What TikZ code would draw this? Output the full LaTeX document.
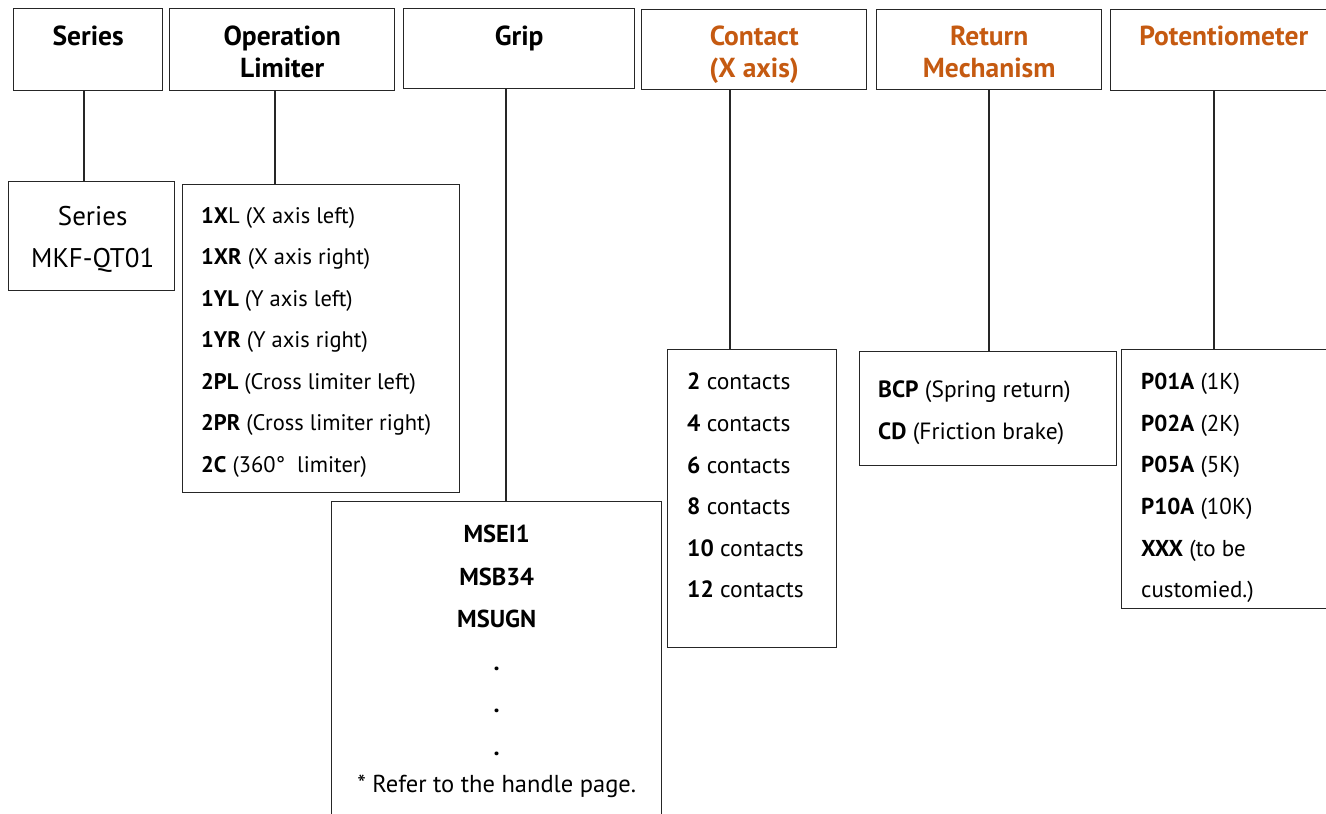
\documentclass[tikz,border=0pt]{standalone}
\usepackage{fontspec}
\setmainfont{PT Sans}
\usetikzlibrary{positioning}
\definecolor{hdorange}{RGB}{197,90,17}
\tikzset{
  frame/.style={draw=black!85, line width=1.4pt, anchor=north west, inner sep=0pt},
  title/.style={font=\fontsize{27.5}{32}\selectfont\bfseries, align=center, inner sep=0pt, anchor=north},
  items/.style={font=\fontsize{22.5}{41.5}\selectfont, align=left, inner sep=0pt, anchor=north west},
  wire/.style={draw=black!85, line width=1.4pt},
}
\newcommand{\link}[3]{\draw[wire] (#1.south -| #3,0) -- (#2.north -| #3,0);}

\begin{document}
\begin{tikzpicture}[x=1pt, y=-1pt]
    \useasboundingbox (0,0) rectangle (1326,814);
    \clip (0,0) rectangle (1326,814);
    % headers
    \node[frame, minimum width=149, minimum height=82] (hseries) at (13,8) {};
    \node[frame, minimum width=225, minimum height=82] (hlimit) at (169,8) {};
    \node[frame, minimum width=231, minimum height=80] (hgrip) at (403,8) {};
    \node[frame, minimum width=225, minimum height=80] (hcontact) at (641,9) {};
    \node[frame, minimum width=225, minimum height=80] (hreturn) at (876,9) {};
    \node[frame, minimum width=240, minimum height=81] (hpot) at (1110,9) {};
    \node[title, below=18pt of hseries.north] (tseries) {Series};
    \node[title, below=18pt of hlimit.north] (tlimit) {Operation\\Limiter};
    \node[title, below=18pt of hgrip.north] (tgrip) {Grip};
    \node[title, text=hdorange, below=17pt of hcontact.north] (tcontact) {Contact\\(X axis)};
    \node[title, text=hdorange, below=17pt of hreturn.north] (treturn) {Return\\Mechanism};
    \node[title, text=hdorange, below=17pt of hpot.north, xshift=-7pt] (tpot) {Potentiometer};
    % option boxes
    \node[frame, minimum width=166, minimum height=109] (series) at (8,181) {};
    \node[title, font=\fontsize{27}{42}\selectfont, below=25pt of series.north, xshift=1pt] (tmodel) {Series\\MKF-QT01};
    \node[frame, minimum width=277, minimum height=308] (limit) at (182,184) {};
    \node[frame, minimum width=330, minimum height=340] (grip) at (331,501) {};
    \node[frame, minimum width=169, minimum height=298] (contact) at (667,349) {};
    \node[frame, minimum width=257, minimum height=114] (return) at (859,351) {};
    \node[frame, minimum width=250, minimum height=259] (pot) at (1121,349) {};
    \node[items, below right=23pt and 19pt of limit.north west] (llimit) {%
        \textbf{1X}L (X axis left)\\
        \textbf{1XR} (X axis right)\\
        \textbf{1YL} (Y axis left)\\
        \textbf{1YR} (Y axis right)\\
        \textbf{2PL} (Cross limiter left)\\
        \textbf{2PR} (Cross limiter right)\\
        \textbf{2C} (360°\ \ limiter)};
    \node[items, align=center, font=\fontsize{24.5}{42.5}\selectfont, anchor=north,
          below=24pt of grip.north] (lgrip) {%
        \textbf{MSEI1}\\ \textbf{MSB34}\\ \textbf{MSUGN}\\ \textbf{.}\\ \textbf{.}\\ \textbf{.}\\[-5pt]
        * Refer to the handle page.};
    \node[items, font=\fontsize{23.5}{41.6}\selectfont, below right=24pt and 20pt of contact.north west] (lcontact) {%
        \textbf{2} contacts\\ \textbf{4} contacts\\ \textbf{6} contacts\\
        \textbf{8} contacts\\ \textbf{10} contacts\\ \textbf{12} contacts};
    \node[items, font=\fontsize{23.5}{41.5}\selectfont, below right=30pt and 19pt of return.north west] (lreturn) {%
        \textbf{BCP} (Spring return)\\ \textbf{CD} (Friction brake)};
    \node[items, font=\fontsize{23}{41.6}\selectfont, below right=24pt and 20pt of pot.north west] (lpot) {%
        \textbf{P01A} (1K)\\ \textbf{P02A} (2K)\\ \textbf{P05A} (5K)\\
        \textbf{P10A} (10K)\\ \textbf{XXX} (to be\\ customied.)};
    % connectors
    \link{hseries}{series}{84}
    \link{hlimit}{limit}{275}
    \link{hgrip}{grip}{506}
    \link{hcontact}{contact}{730}
    \link{hreturn}{return}{989}
    \link{hpot}{pot}{1214}
\end{tikzpicture}
\end{document}
